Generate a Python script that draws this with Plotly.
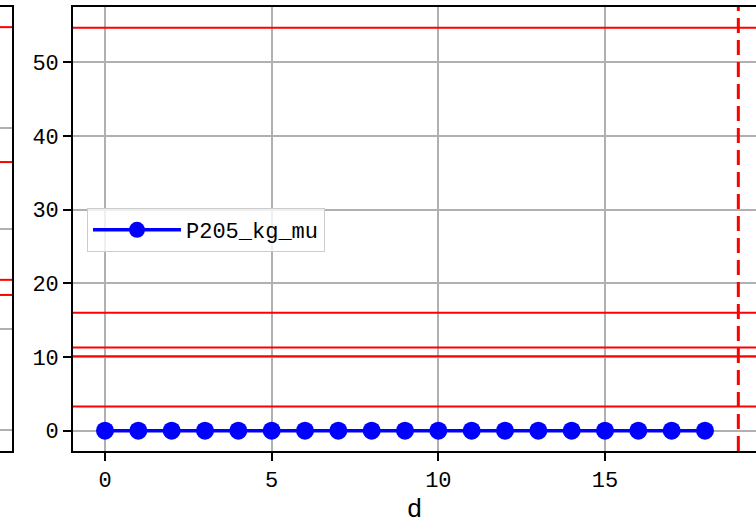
import plotly.graph_objects as go

# ---- data ----
d = [0, 1, 2, 3, 4, 5, 6, 7, 8, 9, 10, 11, 12, 13, 14, 15, 16, 17, 18]
P205_kg_mu = [0, 0, 0, 0, 0, 0, 0, 0, 0, 0, 0, 0, 0, 0, 0, 0, 0, 0, 0]
red_hlines = [54.7, 16.0, 11.3, 10.1, 3.3]
red_vline = 19.0
x_ticks = [0, 5, 10, 15]
y_ticks = [0, 10, 20, 30, 40, 50]

# partial neighbouring panel at the left edge (scale unknown, relative values)
left_grid = [0, 10, 20, 30]
left_hlines = [40.0, 26.6, 14.9, 13.4]

FONT = "Liberation Mono"
W, H = 756, 525
GRID = "#b0b0b0"

fig = go.Figure()

fig.add_trace(go.Scatter(
    x=d, y=P205_kg_mu, mode="lines+markers", name="P205_kg_mu",
    line=dict(color="#0000ff", width=3.5),
    marker=dict(color="#0000ff", size=18),
    xaxis="x", yaxis="y",
))

# left partial panel (invisible helper trace to establish axes)
fig.add_trace(go.Scatter(x=[0], y=[0], mode="markers", marker=dict(opacity=0),
                         showlegend=False, hoverinfo="skip", xaxis="x2", yaxis="y2"))

for v in red_hlines:
    fig.add_shape(type="line", xref="x domain", yref="y", x0=0, x1=1, y0=v, y1=v,
                  line=dict(color="#ff0000", width=2))
fig.add_shape(type="line", xref="x", yref="y domain", x0=red_vline, x1=red_vline, y0=0, y1=1,
              line=dict(color="#ff0000", width=3, dash="15px,7px"))
for v in left_hlines:
    fig.add_shape(type="line", xref="x2 domain", yref="y2", x0=0, x1=1, y0=v, y1=v,
                  line=dict(color="#ff0000", width=2))

fig.update_layout(
    width=W, height=H,
    margin=dict(l=0, r=0, t=7, b=74, autoexpand=False),
    paper_bgcolor="white", plot_bgcolor="white",
    font=dict(family=FONT, size=22, color="black"),
    showlegend=True,
    legend=dict(x=87 / W, y=1 - (208 - 7) / (H - 81), xanchor="left", yanchor="top",
                bgcolor="rgba(255,255,255,0.8)", bordercolor="#cccccc", borderwidth=1,
                font=dict(family=FONT, size=22), itemwidth=88),
    xaxis=dict(domain=[73 / W, 1], range=[-0.96, 19.53], tickvals=x_ticks,
               showgrid=True, gridcolor=GRID, gridwidth=1.6, zeroline=False,
               showline=True, linecolor="black", linewidth=1.6, mirror=True,
               ticks="outside", ticklen=8, tickwidth=1.6, tickcolor="black",
               title=dict(text="d", standoff=14), anchor="y", automargin=True),
    yaxis=dict(domain=[0, 1], range=[-2.75, 57.5], tickvals=y_ticks,
               showgrid=True, gridcolor=GRID, gridwidth=1.6, zeroline=False,
               showline=True, linecolor="black", linewidth=1.6,
               ticks="outside", ticklen=8, tickwidth=1.6, tickcolor="black",
               anchor="x", automargin=False),
    xaxis2=dict(domain=[0, 12 / W], range=[0, 1], showticklabels=False, ticks="",
                showgrid=False, zeroline=False, showline=True, linecolor="black",
                linewidth=1.6, mirror=True, anchor="y2", automargin=False),
    yaxis2=dict(domain=[0, 1], range=[-2.1, 42.0], tickvals=left_grid, showticklabels=False,
                ticks="", showgrid=True, gridcolor=GRID, gridwidth=1.6, zeroline=False,
                showline=True, linecolor="black", linewidth=1.6, side="right", anchor="x2",
                automargin=False),
)

fig.write_html("out.html", config={"displayModeBar": False},
               post_script="document.body.style.margin='0';document.body.style.overflow='hidden';")
